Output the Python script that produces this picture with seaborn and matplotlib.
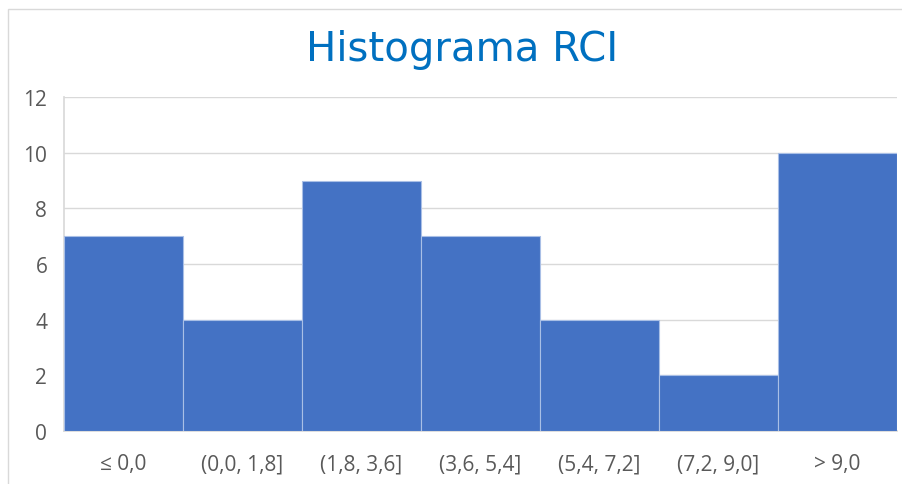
import matplotlib
matplotlib.use("Agg")
import matplotlib.pyplot as plt
import seaborn as sns
import pandas as pd
from matplotlib.patches import Rectangle

# intervalos y frecuencias del histograma
bins = ["≤ 0,0", "(0,0, 1,8]", "(1,8, 3,6]", "(3,6, 5,4]", "(5,4, 7,2]", "(7,2, 9,0]", "> 9,0"]
counts = [7, 4, 9, 7, 4, 2, 10]
yticks = [0, 2, 4, 6, 8, 10, 12]

df = pd.DataFrame({"bin": bins, "count": counts})

sns.set_theme(style="white")
plt.rcParams["font.family"] = ["Open Sans", "DejaVu Sans"]

fig = plt.figure(figsize=(9.02, 4.85), dpi=100)
ax = fig.add_axes([64 / 902, 1 - 432 / 485, 833 / 902, 334 / 485])

sns.barplot(data=df, x="bin", y="count", color="#4472C4", width=1.0,
            saturation=1, edgecolor="#A9BFE6", linewidth=0.8, ax=ax, zorder=3)

ax.set_xlim(-0.5, len(bins) - 0.5)
ax.set_ylim(0, 12)
ax.set_yticks(yticks)
ax.yaxis.grid(True, color="#D9D9D9", linewidth=1, zorder=0)
ax.set_axisbelow(True)
ax.set_xlabel("")
ax.set_ylabel("")
ax.tick_params(axis="both", length=0, labelsize=15, colors="#595959")
ax.tick_params(axis="x", pad=16)
ax.tick_params(axis="y", pad=12)
for side in ["top", "right"]:
    ax.spines[side].set_visible(False)
ax.spines["left"].set_color("#D9D9D9")
ax.spines["bottom"].set_color("#D9D9D9")

# título centrado en el área del gráfico
fig.text(462 / 902, 1 - 50 / 485, "Histograma RCI", fontsize=29, color="#0070C0",
         ha="center", va="center", family="DejaVu Sans")

# marco del gráfico
fig.patches.append(Rectangle((8 / 902, -0.1), 1.2, 1 - 10 / 485 + 0.1,
                             transform=fig.transFigure, fill=False,
                             edgecolor="#D9D9D9", linewidth=1))

fig.savefig("out.png", dpi=100)
